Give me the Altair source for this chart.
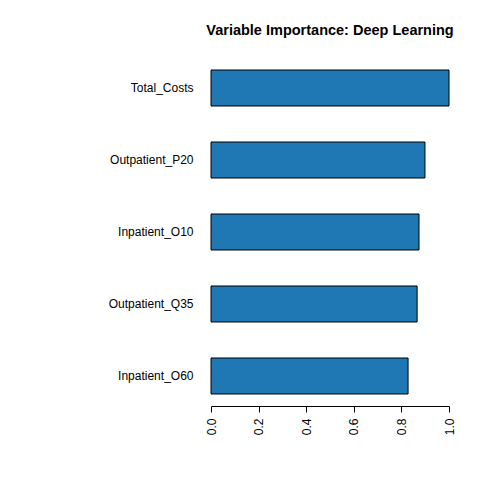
import altair as alt
import pandas as pd

features = ["Total_Costs", "Outpatient_P20", "Inpatient_O10", "Outpatient_Q35", "Inpatient_O60"]
importance = [1.0, 0.899, 0.874, 0.866, 0.828]
ticks = [0.0, 0.2, 0.4, 0.6, 0.8, 1.0]

df = pd.DataFrame({"feature": features, "importance": importance})

font = "Liberation Sans"

chart = alt.Chart(df).mark_bar(
    fill="#1f77b4", stroke="black", strokeWidth=1
).encode(
    x=alt.X(
        "importance:Q",
        scale=alt.Scale(domain=[0, 1], nice=False, zero=True),
        axis=alt.Axis(
            values=ticks, format=".1f", labelAngle=270, title=None, grid=False,
            tickSize=6, domainColor="black", tickColor="black", labelColor="black",
            labelFont=font, labelFontSize=12, labelPadding=6, labelBaseline="middle",
            labelAlign="right", domainWidth=1, tickWidth=1, labelFlush=False,
        ),
    ),
    y=alt.Y(
        "feature:N", sort=features,
        scale=alt.Scale(paddingInner=0.5, paddingOuter=0.1667),
        axis=alt.Axis(
            title=None, domain=False, ticks=False, labelPadding=18,
            labelFont=font, labelFontSize=12, labelColor="black",
        ),
    ),
).properties(
    width=238,
    height=348,
    title=alt.TitleParams(
        "Variable Importance: Deep Learning", font=font, fontSize=14.5,
        fontWeight="bold", color="black", anchor="middle", offset=20,
    ),
    padding={"left": 211, "top": 58, "right": 31, "bottom": 74},
    autosize="none",
    background="white",
).configure_view(stroke=None)

chart.save("out.html", embed_options={"renderer": "svg", "actions": False})
